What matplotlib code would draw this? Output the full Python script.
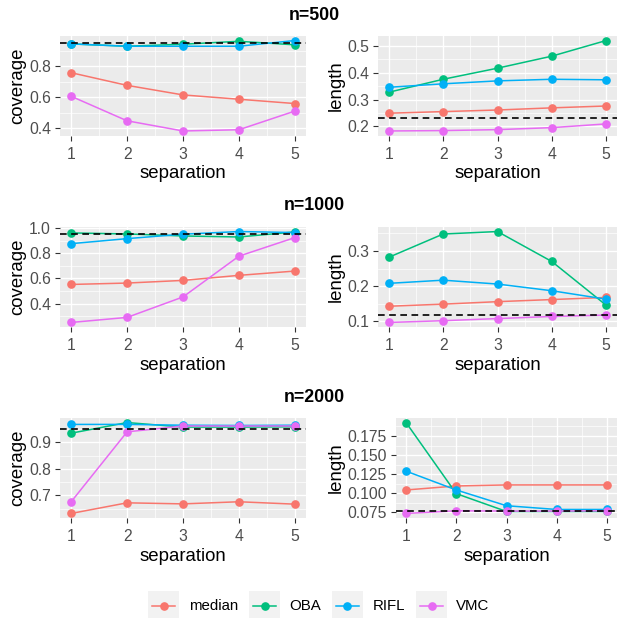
import matplotlib
matplotlib.use("Agg")
import matplotlib.pyplot as plt
from matplotlib.patches import Rectangle
from matplotlib.lines import Line2D
import numpy as np

plt.rcParams['font.family'] = ['Liberation Sans', 'DejaVu Sans']

separation = [1, 2, 3, 4, 5]
methods = ["median", "OBA", "RIFL", "VMC"]
colors = {"median": "#F8766D", "OBA": "#00BF7D", "RIFL": "#00B0F6", "VMC": "#E76BF3"}
sizes = ["n=500", "n=1000", "n=2000"]

# coverage
cov_500 = {
    "median": [0.759, 0.677, 0.615, 0.587, 0.559],
    "OBA":    [0.946, 0.931, 0.944, 0.963, 0.940],
    "RIFL":   [0.946, 0.931, 0.931, 0.931, 0.968],
    "VMC":    [0.606, 0.447, 0.381, 0.389, 0.510],
}
cov_1000 = {
    "median": [0.552, 0.563, 0.584, 0.624, 0.658],
    "OBA":    [0.960, 0.952, 0.936, 0.928, 0.968],
    "RIFL":   [0.875, 0.915, 0.950, 0.971, 0.963],
    "VMC":    [0.251, 0.291, 0.453, 0.776, 0.923],
}
cov_2000 = {
    "median": [0.632, 0.672, 0.668, 0.676, 0.667],
    "OBA":    [0.934, 0.974, 0.957, 0.957, 0.958],
    "RIFL":   [0.967, 0.967, 0.964, 0.963, 0.964],
    "VMC":    [0.676, 0.939, 0.961, 0.961, 0.961],
}
# length
len_500 = {
    "median": [0.249, 0.255, 0.261, 0.269, 0.276],
    "OBA":    [0.3275, 0.376, 0.4175, 0.4625, 0.521],
    "RIFL":   [0.346, 0.359, 0.370, 0.376, 0.374],
    "VMC":    [0.1825, 0.184, 0.1875, 0.195, 0.209],
}
len_1000 = {
    "median": [0.143, 0.149, 0.156, 0.162, 0.168],
    "OBA":    [0.282, 0.348, 0.355, 0.270, 0.146],
    "RIFL":   [0.208, 0.217, 0.206, 0.187, 0.163],
    "VMC":    [0.097, 0.102, 0.108, 0.114, 0.118],
}
len_2000 = {
    "median": [0.1044, 0.1096, 0.1110, 0.1110, 0.1110],
    "OBA":    [0.1925, 0.0996, 0.0763, 0.0763, 0.0763],
    "RIFL":   [0.129, 0.1044, 0.0838, 0.0789, 0.0789],
    "VMC":    [0.0737, 0.0772, 0.0768, 0.0768, 0.0772],
}
cov_ref = 0.95
len_ref = [0.231, 0.119, 0.0772]

cov_ticks = [[0.4, 0.6, 0.8], [0.4, 0.6, 0.8, 1.0], [0.7, 0.8, 0.9]]
cov_ticklabels = [["0.4", "0.6", "0.8"], ["0.4", "0.6", "0.8", "1.0"], ["0.7", "0.8", "0.9"]]
len_ticks = [[0.2, 0.3, 0.4, 0.5], [0.1, 0.2, 0.3], [0.075, 0.100, 0.125, 0.150, 0.175]]
len_ticklabels = [["0.2", "0.3", "0.4", "0.5"], ["0.1", "0.2", "0.3"],
                  ["0.075", "0.100", "0.125", "0.150", "0.175"]]

W, H = 620, 618
fig = plt.figure(figsize=(W / 100, H / 100), dpi=100)
fig.patch.set_facecolor("white")


def px_rect(x0, y0, x1, y1):
    return [x0 / W, 1 - y1 / H, (x1 - x0) / W, (y1 - y0) / H]


rows_y = [(36, 135.5), (227, 327), (418, 518)]
left_x = (60, 306)
right_x = [(378, 617), (378, 617), (396, 617)]
title_y = [15, 205, 397]

cov_all = [cov_500, cov_1000, cov_2000]
len_all = [len_500, len_1000, len_2000]


def style_ax(ax, yticks, yticklabels, ylabel):
    ax.set_facecolor("#EBEBEB")
    for s in ax.spines.values():
        s.set_visible(False)
    ax.set_xlim(0.8, 5.2)
    ax.set_xticks(separation)
    ax.set_xticklabels([str(s) for s in separation])
    ax.set_xticks([1.5, 2.5, 3.5, 4.5], minor=True)
    ax.set_yticks(yticks)
    ax.set_yticklabels(yticklabels)
    yt = np.array(yticks)
    step = yt[1] - yt[0]
    ylo, yhi = ax.get_ylim()
    minors = np.arange(yt[0] - step / 2, yhi, step)
    minors = [m for m in minors if ylo < m < yhi]
    ax.set_yticks(minors, minor=True)
    ax.grid(which="major", color="white", linewidth=1.0)
    ax.grid(which="minor", color="white", linewidth=0.5)
    ax.set_axisbelow(True)
    ax.tick_params(which="major", length=3.6, width=0.8, color="#333333",
                   labelcolor="#4D4D4D", labelsize=11.3)
    ax.tick_params(axis="x", which="major", pad=4.5)
    ax.tick_params(axis="y", which="major", pad=2.8)
    ax.tick_params(which="minor", length=0)
    ax.set_xlabel("separation", fontsize=13.4, labelpad=2.5)
    ax.set_ylabel(ylabel, fontsize=13.4, labelpad=2.0)


for r in range(3):
    y0, y1 = rows_y[r]
    for c, (data, ref, ticks, tlabels, ylabel, xr) in enumerate([
        (cov_all[r], cov_ref, cov_ticks[r], cov_ticklabels[r], "coverage", left_x),
        (len_all[r], len_ref[r], len_ticks[r], len_ticklabels[r], "length", right_x[r]),
    ]):
        ax = fig.add_axes(px_rect(xr[0], y0, xr[1], y1))
        for m in methods:
            ax.plot(separation, data[m], color=colors[m], linewidth=1.1, zorder=2)
        for m in methods:
            ax.plot(separation, data[m], linestyle="none", marker="o", markersize=5.2,
                    color=colors[m], zorder=3)
        ax.margins(x=0.05, y=0.05)
        ax.autoscale_view()
        ax.axhline(ref, color="black", linewidth=1.2, dashes=(4, 2.7), zorder=4)
        style_ax(ax, ticks, tlabels, ylabel)
    fig.text(314 / W, 1 - title_y[r] / H, sizes[r], ha="center", va="center",
             fontsize=12.8, fontweight="bold")

# legend
key_x = [148, 249, 332, 416]
lab_x = [189, 289, 373, 456]
ky0, ky1 = 591, 618
kcy = 606
for m, kx, lx in zip(methods, key_x, lab_x):
    fig.add_artist(Rectangle((kx / W, 1 - ky1 / H), 31 / W, (ky1 - ky0) / H,
                             transform=fig.transFigure, facecolor="#F2F2F2",
                             edgecolor="none"))
    fig.add_artist(Line2D([(kx + 4) / W, (kx + 27) / W], [1 - kcy / H, 1 - kcy / H],
                          transform=fig.transFigure, color=colors[m], linewidth=1.1))
    fig.add_artist(Line2D([(kx + 15.5) / W], [1 - kcy / H], transform=fig.transFigure,
                          color=colors[m], marker="o", markersize=5.2, linestyle="none"))
    fig.text(lx / W, 1 - kcy / H, m, ha="left", va="center", fontsize=10.8, color="black")

fig.savefig("out.png", dpi=100)
